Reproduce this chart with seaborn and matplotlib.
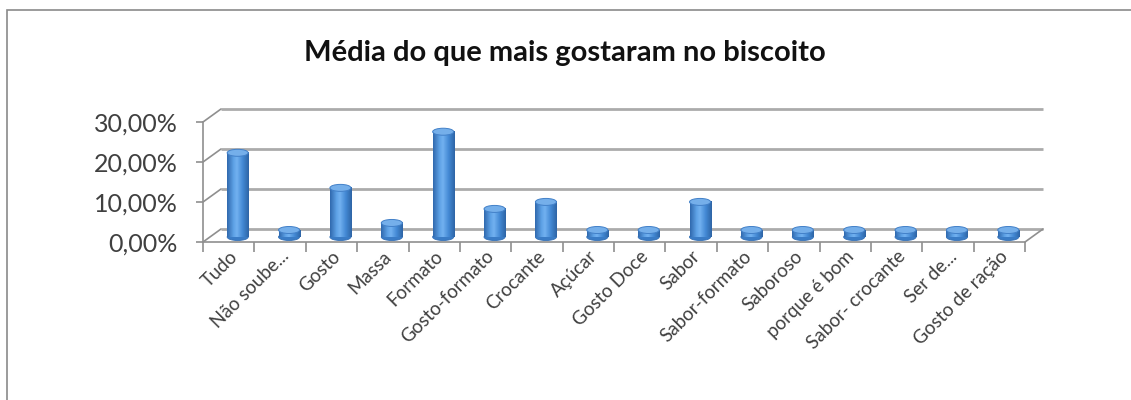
import numpy as np
import matplotlib
matplotlib.use("Agg")
import matplotlib.pyplot as plt
import seaborn as sns
import pandas as pd
from matplotlib.transforms import ScaledTranslation
from matplotlib.patches import Ellipse, Rectangle
from matplotlib.colors import LinearSegmentedColormap

categories = ["Tudo", "Não soube...", "Gosto", "Massa", "Formato", "Gosto-formato",
              "Crocante", "Açúcar", "Gosto Doce", "Sabor", "Sabor-formato", "Saboroso",
              "porque é bom", "Sabor- crocante", "Ser de...", "Gosto de ração"]
values = [0.2105, 0.0175, 0.1228, 0.0351, 0.2632, 0.0702,
          0.0877, 0.0175, 0.0175, 0.0877, 0.0175, 0.0175,
          0.0175, 0.0175, 0.0175, 0.0175]
yticks = [0.0, 0.1, 0.2, 0.3]
ytick_labels = ["0,00%", "10,00%", "20,00%", "30,00%"]
title = "Média do que mais gostaram no biscoito"

sns.set_style("white")
plt.rcParams["font.family"] = ["Lato", "DejaVu Sans"]

DPI = 100
fig = plt.figure(figsize=(11.31, 4.0), dpi=DPI)
W, H = 1131, 400

# outer chart border (only top/left visible in reference)
fig.patches.append(Rectangle((7 / W, -0.1), 1.2, (H - 10) / H + 0.1, transform=fig.transFigure,
                             fill=False, edgecolor="#8a8a8a", lw=1.2))

ax = fig.add_axes([203 / W, (H - 242) / H, 822 / W, 120 / H])
ax.set_facecolor("none")

df = pd.DataFrame({"cat": categories, "val": values})
sns.barplot(data=df, x="cat", y="val", ax=ax, width=0.41, color="#4389d4",
            saturation=1, errorbar=None, zorder=3)

ax.set_xlim(-0.5, len(categories) - 0.5)
ax.set_ylim(0, 0.3)

def off(dx, dy):
    return ScaledTranslation(dx / DPI, dy / DPI, fig.dpi_scale_trans)

back_y = ax.get_yaxis_transform() + off(18, 13)
bar_t = ax.transData + off(9, 5)

grid_col = "#ababab"
axis_col = "#8f8f8f"
# back-wall gridlines
for yv in yticks:
    ax.plot([0, 1], [yv, yv], transform=back_y, color=grid_col, lw=2.0,
            clip_on=False, zorder=1, solid_capstyle="butt")
# diagonals from front left axis to back wall
for yv in yticks:
    ax.annotate("", xy=(0, yv), xycoords=back_y, xytext=(0, yv),
                textcoords=ax.get_yaxis_transform(),
                arrowprops=dict(arrowstyle="-", color=axis_col, lw=1.2,
                                shrinkA=0, shrinkB=0), annotation_clip=False)
# right floor diagonal
ax.annotate("", xy=(1, 0), xycoords=back_y, xytext=(1, 0), textcoords=ax.get_yaxis_transform(),
            arrowprops=dict(arrowstyle="-", color=axis_col, lw=1.2, shrinkA=0, shrinkB=0),
            annotation_clip=False)

# cylinder styling
cmap = LinearSegmentedColormap.from_list(
    "cyl", [(0.0, "#3069ae"), (0.3, "#5ea2e6"), (0.45, "#72b1f0"),
            (0.72, "#4389d4"), (1.0, "#2e64a6")])
grad = np.linspace(0, 1, 64).reshape(1, -1)
px_per_unit = 120 / 0.3
eh = 7 / px_per_unit
for p in ax.patches[:len(categories)]:
    x0 = p.get_x(); w = p.get_width(); h = p.get_height()
    p.set_transform(bar_t)
    p.set_edgecolor("none")
    ax.add_patch(Ellipse((x0 + w / 2, 0), w, eh, transform=bar_t, facecolor="#3a7cc6",
                         edgecolor="#336fb5", lw=0.6, zorder=2.9))
    ax.imshow(grad, extent=(x0, x0 + w, 0, h), aspect="auto", cmap=cmap,
              transform=bar_t, zorder=3.1, interpolation="bilinear")
    ax.add_patch(Ellipse((x0 + w / 2, h), w, eh, transform=bar_t, facecolor="#75afea",
                         edgecolor="#4280c8", lw=0.7, zorder=3.2))
ax.set_xlim(-0.5, len(categories) - 0.5)
ax.set_ylim(0, 0.3)

# axes
for s in ["top", "right"]:
    ax.spines[s].set_visible(False)
for s in ["left", "bottom"]:
    ax.spines[s].set_color(axis_col)
    ax.spines[s].set_linewidth(1.2)

ax.set_yticks(yticks)
ax.set_yticklabels(ytick_labels)
ax.tick_params(axis="y", direction="out", length=5, width=1.2, color=axis_col,
               pad=13, labelsize=18, labelcolor="#404040", left=True)
ax.set_xticks(range(len(categories)))
ax.set_xticklabels(categories, rotation=45, ha="right", rotation_mode="anchor")
ax.tick_params(axis="x", which="major", length=0, pad=4, labelsize=13.5, labelcolor="#404040")
ax.set_xticks(np.arange(-0.5, len(categories), 1.0), minor=True)
ax.tick_params(axis="x", which="minor", direction="out", length=7, width=1.2,
               color=axis_col, bottom=True)
ax.set_xlabel("")
ax.set_ylabel("")

fig.text(565 / W, 1 - 53 / H, title, ha="center", va="center", fontsize=21,
         fontweight="bold", color="#111111")

fig.savefig("out.png", dpi=DPI, facecolor="white")
